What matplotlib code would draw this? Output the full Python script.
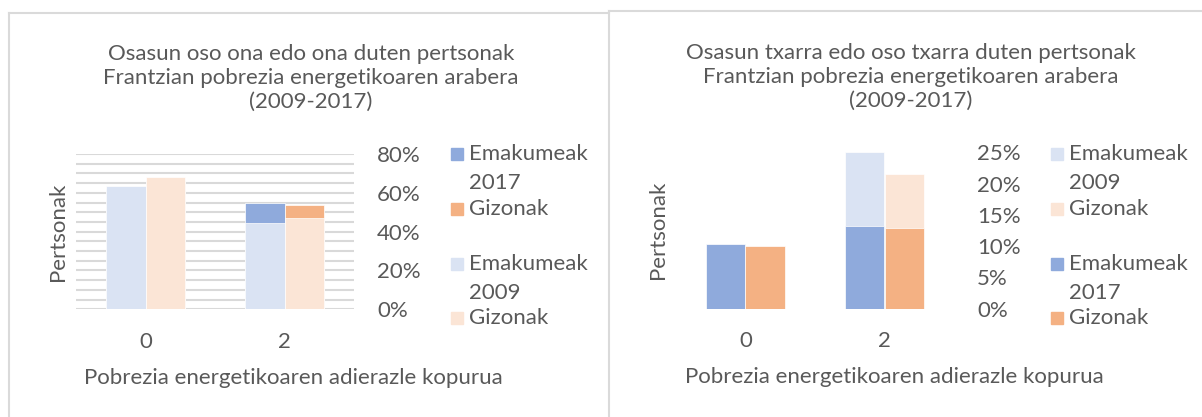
import matplotlib.pyplot as plt
from matplotlib.patches import Rectangle
from matplotlib.lines import Line2D
import numpy as np

W, H = 1202, 417
plt.rcParams['font.family'] = ['Lato', 'DejaVu Sans']
GREY = '#595959'
FS = 16

categories = ["0", "2"]

# ezkerreko grafikoa: osasun oso ona edo ona
ona_emak_2009 = [0.637, 0.446]
ona_giz_2009 = [0.683, 0.470]
ona_emak_2017 = [0.62, 0.549]
ona_giz_2017 = [0.66, 0.536]

# eskuineko grafikoa: osasun txarra edo oso txarra
txar_emak_2009 = [0.09, 0.250]
txar_giz_2009 = [0.085, 0.216]
txar_emak_2017 = [0.103, 0.133]
txar_giz_2017 = [0.100, 0.129]

titles = ["Osasun oso ona edo ona duten pertsonak\nFrantzian pobrezia energetikoaren arabera\n(2009-2017)",
          "Osasun txarra edo oso txarra duten pertsonak\nFrantzian pobrezia energetikoaren arabera\n(2009-2017)"]
xlabel = "Pobrezia energetikoaren adierazle kopurua"
ylabel = "Pertsonak"

C_E17, C_G17 = '#8FAADC', '#F4B183'
C_E09, C_G09 = '#DAE3F3', '#FBE5D6'


def fx(x):
    return x / W


def fy(y):
    return 1 - y / H


fig = plt.figure(figsize=(W / 100, H / 100), dpi=100)

# panel borders
bc = '#DADADA'
fig.add_artist(Line2D([fx(8.5), fx(609)], [fy(12.5), fy(12.5)], color=bc, lw=1.5))
fig.add_artist(Line2D([fx(8.5), fx(8.5)], [fy(12.5), 0], color=bc, lw=1.5))
fig.add_artist(Line2D([fx(609), fx(1202)], [fy(10.8), fy(10.8)], color=bc, lw=1.5))
fig.add_artist(Line2D([fx(609), fx(609)], [fy(10.8), 0], color=bc, lw=1.5))

axL = fig.add_axes([fx(76), fy(309.3), (354 - 76) / W, (309.3 - 154) / H])
axR = fig.add_axes([fx(676), fy(308.7), (954 - 676) / W, (308.7 - 152.4) / H])

x = np.arange(len(categories))
bw = 0.284

# left: 2017 behind, 2009 in front
axL.bar(x - bw / 2, ona_emak_2017, bw, color=C_E17, edgecolor='white', lw=0.5, zorder=2)
axL.bar(x + bw / 2, ona_giz_2017, bw, color=C_G17, edgecolor='white', lw=0.5, zorder=2)
axL.bar(x - bw / 2, ona_emak_2009, bw, color=C_E09, edgecolor='white', lw=0.5, zorder=3)
axL.bar(x + bw / 2, ona_giz_2009, bw, color=C_G09, edgecolor='white', lw=0.5, zorder=3)
axL.set_ylim(0, 0.8)
axL.set_yticks(np.arange(0, 0.81, 0.2))
axL.set_yticks(np.arange(0, 0.81, 0.05), minor=True)
axL.grid(True, which='both', axis='y', color='#D9D9D9', lw=1.5)

# right: 2009 behind, 2017 in front
axR.bar(x - bw / 2, txar_emak_2009, bw, color=C_E09, edgecolor='white', lw=0.5, zorder=2)
axR.bar(x + bw / 2, txar_giz_2009, bw, color=C_G09, edgecolor='white', lw=0.5, zorder=2)
axR.bar(x - bw / 2, txar_emak_2017, bw, color=C_E17, edgecolor='white', lw=0.5, zorder=3)
axR.bar(x + bw / 2, txar_giz_2017, bw, color=C_G17, edgecolor='white', lw=0.5, zorder=3)
axR.set_ylim(0, 0.25)
axR.set_yticks(np.arange(0, 0.251, 0.05))
axR.set_yticks([0, 0.1, 0.2], minor=True)
axR.grid(True, which='minor', axis='y', color='#D9D9D9', lw=1.5)

for ax in (axL, axR):
    ax.set_xlim(-0.5, 1.5)
    ax.set_xticks(x)
    ax.set_xticklabels(categories)
    ax.set_axisbelow(True)
    for s in ax.spines.values():
        s.set_visible(False)
    ax.yaxis.tick_right()
    ax.set_yticklabels([f"{v * 100:.0f}%" for v in ax.get_yticks()])
    ax.tick_params(axis='y', which='both', length=0, pad=16.5, labelsize=FS, labelcolor=GREY)
    ax.tick_params(axis='x', length=0, pad=16, labelsize=FS, labelcolor=GREY)

# titles and axis labels
fig.text(fx(311), fy(78), titles[0], ha='center', va='center', fontsize=FS, color=GREY, linespacing=1.25)
fig.text(fx(910.5), fy(77), titles[1], ha='center', va='center', fontsize=FS, color=GREY, linespacing=1.25)
fig.text(fx(293), fy(378), xlabel, ha='center', va='center', fontsize=FS, color=GREY)
fig.text(fx(894), fy(377), xlabel, ha='center', va='center', fontsize=FS, color=GREY)
fig.text(fx(57.6), fy(232), ylabel, ha='center', va='center', rotation=90, fontsize=FS, color=GREY)
fig.text(fx(657.6), fy(230), ylabel, ha='center', va='center', rotation=90, fontsize=FS, color=GREY)


def legend(x0, rows):
    # rows: (y, text, colour or None)
    for y, txt, col in rows:
        if col is not None:
            fig.add_artist(Rectangle((fx(x0), fy(y + 6)), 12 / W, 12 / H, color=col))
        fig.text(fx(x0 + 18), fy(y), txt, ha='left', va='center', fontsize=FS, color=GREY)


legend(451, [(154, "Emakumeak", C_E17), (183, "2017", None), (209, "Gizonak", C_G17),
             (264, "Emakumeak", C_E09), (293, "2009", None), (318, "Gizonak", C_G09)])
legend(1051, [(154, "Emakumeak", C_E09), (183, "2009", None), (209, "Gizonak", C_G09),
              (264, "Emakumeak", C_E17), (293, "2017", None), (318, "Gizonak", C_G17)])

fig.savefig("out.png", dpi=100)
